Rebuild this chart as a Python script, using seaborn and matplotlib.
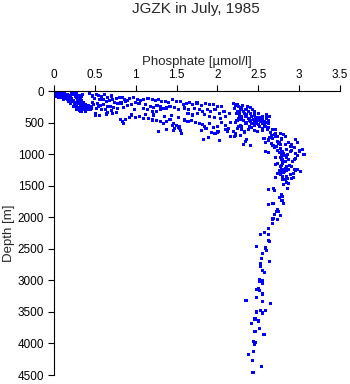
import matplotlib
matplotlib.use("Agg")
import matplotlib.pyplot as plt
import seaborn as sns
import pandas as pd

title = "JGZK in July, 1985"
x_label = "Phosphate [µmol/l]"
y_label = "Depth [m]"
x_ticks = [0, 0.5, 1, 1.5, 2, 2.5, 3, 3.5]
x_tick_labels = ["0", "0.5", "1", "1.5", "2", "2.5", "3", "3.5"]
y_ticks = [0, 500, 1000, 1500, 2000, 2500, 3000, 3500, 4000, 4500]

# surface layer
surface_phosphate = [0.00, 0.01, 0.02, 0.03, 0.01, 0.04, 0.05, 0.02, 0.06, 0.03, 0.07, 0.08, 0.05, 0.02, 0.09,
                     0.04, 0.07, 0.10, 0.06, 0.09, 0.11, 0.08, 0.12, 0.10, 0.05, 0.13, 0.14, 0.03, 0.00, 0.01,
                     0.15, 0.17, 0.18, 0.20, 0.16, 0.19, 0.21, 0.22, 0.24, 0.25, 0.23, 0.26, 0.27, 0.28, 0.24,
                     0.22, 0.26, 0.29, 0.30, 0.31, 0.28, 0.25, 0.33, 0.35, 0.32, 0.29, 0.34, 0.37, 0.38, 0.36,
                     0.40, 0.41, 0.39, 0.43, 0.44, 0.45, 0.30, 0.27, 0.33, 0.20, 0.18, 0.14, 0.13, 0.12, 0.30,
                     0.32, 0.34, 0.36, 0.38, 0.27, 0.24, 0.31, 0.42, 0.46, 0.48, 0.47, 0.35, 0.33, 0.28, 0.30]
surface_depth = [5, 10, 3, 15, 25, 8, 20, 35, 30, 45, 12, 40, 55, 60, 25,
                 70, 65, 50, 85, 75, 60, 95, 80, 100, 100, 40, 70, 80, 30, 50,
                 90, 60, 110, 80, 130, 140, 120, 20, 10, 35, 60, 90, 50, 110, 150,
                 170, 180, 140, 160, 200, 220, 210, 180, 230, 250, 260, 270, 240, 280, 300,
                 260, 300, 320, 280, 250, 300, 290, 300, 320, 200, 170, 120, 100, 130, 100,
                 130, 150, 190, 210, 240, 250, 310, 230, 270, 220, 180, 60, 80, 30, 70]

# nutricline band
band_phosphate = [0.43, 0.47, 0.52, 0.55, 0.58, 0.62, 0.66, 0.70, 0.50, 0.56, 0.60, 0.64, 0.68, 0.72, 0.76,
                  0.80, 0.84, 0.86, 0.88, 0.90, 0.92, 0.74, 0.78, 0.82, 0.53, 0.57, 0.61, 0.65, 0.69, 0.73,
                  0.52, 0.58, 0.63, 0.70, 0.78, 0.85, 0.90, 0.95, 0.51, 0.51, 0.56, 0.64, 0.65, 0.72, 0.77,
                  0.81, 0.85, 0.88, 0.84, 0.92, 0.95, 0.98, 0.55,
                  0.97, 1.02, 1.06, 1.10, 1.15, 1.20, 1.24, 1.28, 1.32, 1.36, 1.40, 1.45, 1.50, 1.55, 1.00,
                  1.04, 1.12, 1.18, 1.22, 1.26, 1.30, 1.34, 1.38, 1.42, 1.47, 1.52, 1.10, 1.14, 1.20, 1.25,
                  1.30, 1.00, 1.05, 1.10, 1.16, 1.20, 1.25, 1.30, 1.34, 1.38, 1.42, 1.46, 1.50, 1.53, 1.55,
                  1.28, 1.38, 1.46, 1.54, 1.56, 1.45, 1.48, 1.12, 1.22, 1.35, 1.44, 1.52,
                  1.58, 1.62, 1.66, 1.70, 1.75, 1.80, 1.85, 1.90, 1.95, 2.00, 2.05, 1.60, 1.65, 1.72, 1.78,
                  1.82, 1.88, 1.92, 1.97, 2.02, 2.08, 1.64, 1.70, 1.76, 1.84, 1.90, 1.96, 2.04, 2.10, 2.15,
                  1.60, 1.64, 1.68, 1.73, 1.78, 1.82, 1.84, 1.86, 1.80, 1.90, 1.95, 2.00, 2.05, 2.10, 1.83,
                  1.89, 2.03, 1.93, 1.97, 2.01, 2.10, 2.20, 2.16, 2.22, 2.14, 2.00]
band_depth = [40, 80, 50, 70, 90, 60, 100, 80, 120, 140, 130, 160, 150, 140, 120,
              110, 100, 130, 160, 150, 120, 180, 200, 190, 200, 230, 210, 250, 240, 260,
              280, 300, 290, 310, 280, 260, 230, 220, 350, 380, 390, 364, 340, 353, 343,
              448, 511, 450, 480, 420, 380, 300, 250,
              110, 130, 150, 140, 120, 130, 150, 140, 170, 160, 180, 140, 170, 160, 180,
              200, 220, 240, 260, 230, 250, 280, 270, 250, 260, 300, 280, 300, 320, 330,
              300, 420, 400, 430, 440, 460, 470, 490, 520, 480, 450, 510, 540, 570, 620,
              643, 617, 627, 590, 670, 550, 600, 370, 380, 400, 390, 420,
              220, 200, 180, 210, 190, 230, 200, 220, 210, 250, 240, 270, 290, 280, 300,
              320, 290, 330, 300, 350, 320, 350, 380, 360, 370, 400, 420, 440, 400, 360,
              460, 480, 470, 500, 510, 530, 560, 600, 620, 520, 580, 560, 500, 540, 775,
              733, 785, 659, 680, 643, 617, 643, 722, 711, 600, 650]

# high-phosphate cluster and bend
bend_phosphate = [2.20, 2.22, 2.24, 2.26, 2.21, 2.28, 2.30, 2.25, 2.23, 2.27, 2.32, 2.35, 2.38, 2.40, 2.36,
                  2.34, 2.30, 2.28, 2.32, 2.38, 2.42, 2.45, 2.48, 2.44, 2.40, 2.36, 2.46, 2.50, 2.52, 2.55,
                  2.58, 2.60, 2.62, 2.56, 2.50, 2.45, 2.52, 2.58, 2.62, 2.48, 2.42, 2.54, 2.47, 2.39, 2.33,
                  2.29, 2.26, 2.24, 2.22, 2.40, 2.45, 2.50, 2.55, 2.60, 2.64, 2.43, 2.37, 2.31, 2.27, 2.35,
                  2.30, 2.25, 2.38, 2.45, 2.33, 2.28,
                  2.16, 2.28, 2.26, 2.12, 2.22, 2.21, 2.30, 2.40, 2.46, 2.53, 2.44, 2.48, 2.55, 2.59, 2.39,
                  2.42, 2.51, 2.55, 2.59, 2.63, 2.67, 2.71, 2.61, 2.49, 2.55, 2.65, 2.71, 2.77, 2.81, 2.83,
                  2.71, 2.34, 2.32, 2.40, 2.36, 2.57, 2.59, 2.63, 2.67, 2.73, 2.75, 2.77, 2.83, 2.87, 2.96,
                  2.98, 2.91, 2.59, 2.63, 2.77, 2.79, 2.81, 2.85, 2.89, 2.91, 2.96, 3.04, 3.06, 2.71, 2.77,
                  2.79, 2.83, 2.87, 2.94, 2.96, 2.73, 2.71, 2.77, 2.79, 2.83, 2.87, 2.91, 2.94, 2.98, 3.02,
                  2.81, 2.71, 2.77, 2.85, 2.89, 2.91, 2.83, 2.85, 2.81,
                  2.80, 2.82, 2.78, 2.84, 2.80, 2.86, 2.76, 2.74, 2.70, 2.68, 2.72, 2.76, 2.78, 2.74, 2.70,
                  2.66, 2.64, 2.62, 2.66, 2.80, 2.78, 2.84, 2.82, 2.76, 2.88, 2.92, 2.98, 3.00, 2.94, 2.90]
bend_depth = [200, 230, 210, 250, 280, 300, 270, 320, 350, 380, 330, 300, 320, 350, 380,
              400, 420, 450, 470, 430, 400, 380, 420, 450, 470, 500, 500, 460, 420, 450,
              480, 430, 470, 520, 530, 550, 560, 540, 520, 480, 520, 490, 440, 460, 360,
              400, 430, 470, 500, 260, 330, 350, 400, 380, 410, 300, 250, 230, 330, 520,
              560, 600, 610, 620, 650, 700,
              501, 549, 564, 643, 670, 722, 617, 485, 485, 475, 512, 522, 512, 501, 564,
              575, 564, 591, 564, 575, 607, 607, 607, 643, 628, 659, 680, 670, 696, 722,
              722, 802, 854, 870, 765, 749, 817, 775, 749, 802, 828, 854, 854, 817, 765,
              817, 854, 960, 975, 907, 960, 986, 933, 960, 944, 986, 923, 1012, 1049, 1049,
              1091, 1118, 1081, 1081, 1065, 1144, 1170, 1197, 1239, 1223, 1239, 1197, 1250, 1250, 1276,
              1292, 1365, 1329, 1355, 1329, 1381, 1408, 1450, 1487,
              1000, 1020, 1030, 1060, 1100, 1000, 980, 940, 900, 860, 880, 820, 760, 720, 690,
              700, 740, 790, 830, 1150, 1180, 1200, 1270, 1260, 1180, 1120, 1020, 950, 900, 880]

# deep water
deep_phosphate = [2.74, 2.79, 2.84, 2.96, 3.02, 2.80, 2.76, 2.89, 2.93, 2.71, 2.80, 2.86, 2.93, 2.84, 2.81,
                  2.87, 2.86, 2.63, 2.69, 2.70, 2.78, 2.80, 2.76, 2.81, 2.79, 2.63, 2.67, 2.69, 2.73, 2.75,
                  2.77, 2.72, 2.68, 2.67, 2.74, 2.70, 2.67, 2.63, 2.53, 2.58, 2.63, 2.63, 2.64, 2.48, 2.59,
                  2.60, 2.55, 2.54, 2.64, 2.53, 2.53, 2.55, 2.58, 2.52, 2.55, 2.51, 2.50, 2.55, 2.48, 2.51,
                  2.55, 2.48, 2.35, 2.55, 2.65, 2.59, 2.53, 2.48, 2.55, 2.46, 2.50, 2.42, 2.52, 2.46, 2.57,
                  2.44, 2.46, 2.45, 2.44, 2.38, 2.43, 2.54, 2.43, 2.44]
deep_depth = [1303, 1276, 1266, 1266, 1276, 1355, 1313, 1329, 1313, 1366, 1398, 1382, 1366, 1450, 1487,
              1461, 1540, 1566, 1540, 1577, 1645, 1672, 1682, 1777, 1740, 1803, 1777, 1777, 1882, 1909,
              1972, 1909, 2014, 2030, 2030, 1961, 2104, 2178, 2272, 2241, 2267, 2367, 2378, 2457, 2488,
              2525, 2578, 2657, 2699, 2741, 2778, 2847, 2873, 2989, 3005, 3015, 3126, 3043, 3148, 3159,
              3217, 3270, 3322, 3333, 3364, 3480, 3480, 3501, 3517, 3612, 3644, 3686, 3765, 3807, 3865,
              3976, 3991, 4012, 4128, 4170, 4265, 4360, 4465, 4465]

phosphate = surface_phosphate + band_phosphate + bend_phosphate + deep_phosphate
depth = surface_depth + band_depth + bend_depth + deep_depth
df = pd.DataFrame({"phosphate": phosphate, "depth": depth})

sns.set_style("white")
plt.rcParams["font.family"] = ["Liberation Sans", "DejaVu Sans"]

fig = plt.figure(figsize=(3.5, 3.84), dpi=100)
ax = fig.add_axes([54 / 350, 1 - 375 / 384, 286 / 350, 284 / 384])

sns.scatterplot(data=df, x="phosphate", y="depth", ax=ax, marker="s", s=5,
                color="#0000ff", linewidth=0, edgecolor="none")

ax.set_xlim(0, 3.5)
ax.set_ylim(4500, 0)
ax.xaxis.set_ticks_position("top")
ax.xaxis.set_label_position("top")
ax.set_xticks(x_ticks)
ax.set_xticklabels(x_tick_labels)
ax.set_yticks(y_ticks)
ax.tick_params(axis="both", direction="out", length=4, width=0.8, colors="black",
               labelsize=8.5, pad=3)
ax.tick_params(axis="x", top=True, bottom=False)
ax.tick_params(axis="y", left=True)
for side in ["right", "bottom"]:
    ax.spines[side].set_visible(False)
for side in ["left", "top"]:
    ax.spines[side].set_visible(True)
    ax.spines[side].set_color("black")
    ax.spines[side].set_linewidth(0.8)

ax.set_xlabel(x_label, fontsize=9.5, labelpad=3)
ax.set_ylabel(y_label, fontsize=9.5, labelpad=2)
fig.text(196 / 350, 1 - 9 / 384, title, ha="center", va="center", fontsize=11)

fig.savefig("out.png", dpi=100)
